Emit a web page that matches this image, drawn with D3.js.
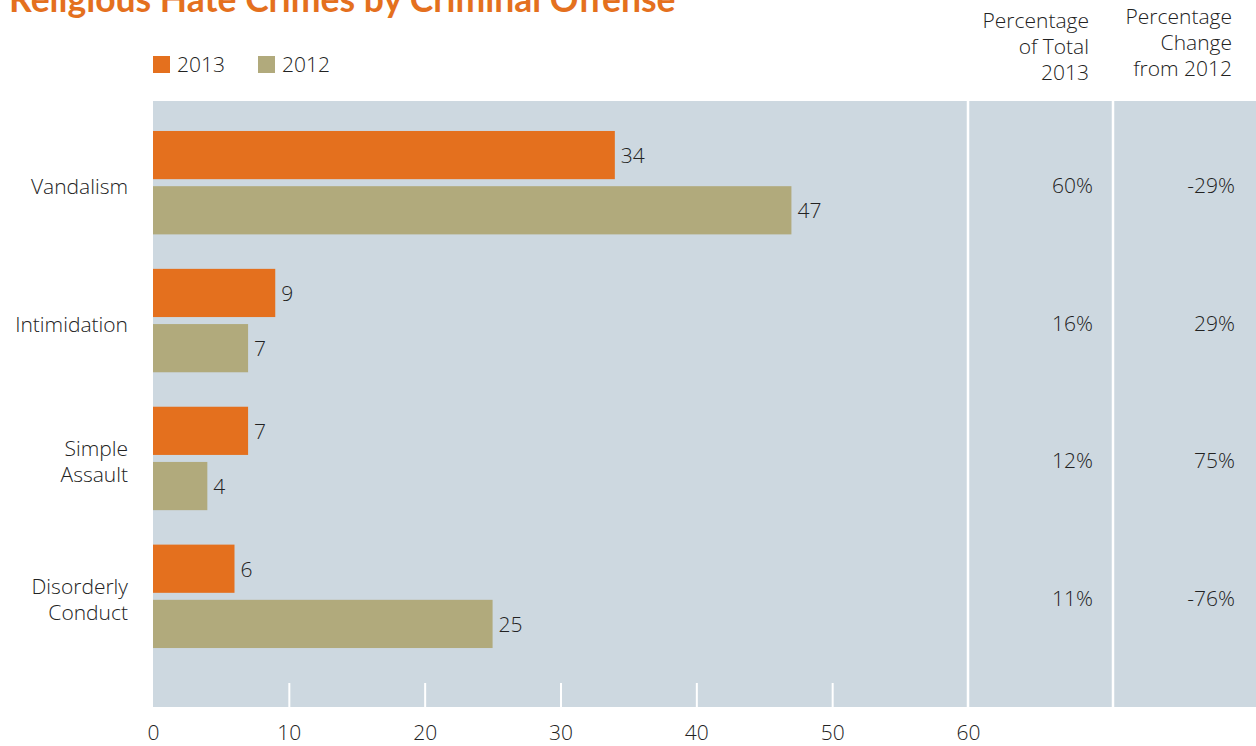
<!DOCTYPE html>
<html>
<head>
<meta charset="utf-8">
<script src="https://cdn.jsdelivr.net/npm/d3@7"></script>
<style>
  html, body { margin: 0; padding: 0; background: #fff; }
  svg { display: block; font-family: "Open Sans", Lato, sans-serif; font-weight: 300; }
</style>
</head>
<body>
<svg id="chart" width="1256" height="746"></svg>
<script>
// Religious hate crimes by criminal offense, 2013 vs 2012
const categories = [["Vandalism"], ["Intimidation"], ["Simple", "Assault"], ["Disorderly", "Conduct"]];
const years = ["2013", "2012"];
const values2013 = [34, 9, 7, 6];
const values2012 = [47, 7, 4, 25];
const pctOfTotal = ["60%", "16%", "12%", "11%"];
const pctChange = ["-29%", "29%", "75%", "-76%"];
const xTicks = [0, 10, 20, 30, 40, 50, 60];

const colors = { "2013": "#e4701e", "2012": "#b1aa7c" };
const bg = "#cdd8e0";
const textColor = "#222";
const fs = 21;

const plot = { left: 153, top: 101, right: 1256, bottom: 707 };
const col1Right = 1113;

const svg = d3.select("#chart");

const x = d3.scaleLinear().domain([0, 60]).range([plot.left, 968]);
const keys = categories.map(c => c.join(" "));
const y = d3.scaleBand().domain(keys).range([96.5, 682.5]).padding(0.25);
const ySub = d3.scaleBand().domain(years).range([0, y.bandwidth()]).paddingInner(0.127);

// Title (partly clipped at the top edge)
svg.append("text")
  .attr("x", 9).attr("y", 12)
  .attr("fill", "#e4701e")
  .attr("font-family", "Lato, sans-serif")
  .attr("font-weight", 700)
  .attr("font-size", 35.5)
  .text("Religious Hate Crimes by Criminal Offense");

// Legend
years.forEach((yr, i) => {
  const g = svg.append("g").attr("transform", `translate(${i === 0 ? 153 : 258},56)`);
  g.append("rect").attr("width", 17).attr("height", 17).attr("fill", colors[yr]);
  g.append("text").attr("x", 24).attr("y", 16).attr("font-size", fs)
    .attr("fill", textColor).text(yr);
});

// Column headers
const headers = [
  { right: 1089, top: 28, lines: ["Percentage", "of Total", "2013"] },
  { right: 1232, top: 24, lines: ["Percentage", "Change", "from 2012"] }
];
headers.forEach(h => {
  const t = svg.append("text").attr("text-anchor", "end").attr("font-size", fs).attr("fill", textColor);
  h.lines.forEach((ln, i) => {
    t.append("tspan").attr("x", h.right).attr("y", h.top + i * 26).text(ln);
  });
});

// Plot background
svg.append("rect")
  .attr("x", plot.left).attr("y", plot.top)
  .attr("width", plot.right - plot.left).attr("height", plot.bottom - plot.top)
  .attr("fill", bg);

// Column separators
[x(60), col1Right].forEach(sx => {
  svg.append("line")
    .attr("x1", sx).attr("x2", sx)
    .attr("y1", plot.top).attr("y2", plot.bottom)
    .attr("stroke", "#fff").attr("stroke-width", 2.5);
});

// X axis: short white ticks inside the bottom of the panel, labels below
const xAxis = d3.axisBottom(x).tickValues(xTicks).tickSize(0).tickPadding(0);
const ax = svg.append("g").attr("transform", `translate(0,${plot.bottom})`).call(xAxis);
ax.select(".domain").remove();
ax.selectAll(".tick text")
  .attr("y", 33).attr("dy", 0)
  .attr("font-family", "'Open Sans', sans-serif")
  .attr("font-weight", 300)
  .attr("font-size", fs).attr("fill", textColor);
ax.selectAll(".tick")
  .filter(d => d > 0 && d < 60)
  .append("line")
  .attr("y1", -24).attr("y2", 0)
  .attr("stroke", "#fff").attr("stroke-width", 2);

// Bars
const rows = keys.map((k, i) => ({ key: k, lines: categories[i], v2013: values2013[i], v2012: values2012[i], pt: pctOfTotal[i], pc: pctChange[i] }));
const groups = svg.append("g").selectAll("g").data(rows).join("g")
  .attr("transform", d => `translate(0,${y(d.key)})`);

groups.selectAll("rect").data(d => years.map(yr => ({ yr, v: d["v" + yr] }))).join("rect")
  .attr("x", x(0))
  .attr("y", d => ySub(d.yr))
  .attr("width", d => x(d.v) - x(0))
  .attr("height", ySub.bandwidth())
  .attr("fill", d => colors[d.yr]);

groups.selectAll("text.val").data(d => years.map(yr => ({ yr, v: d["v" + yr] }))).join("text")
  .attr("class", "val")
  .attr("x", d => x(d.v) + 6)
  .attr("y", d => ySub(d.yr) + ySub.bandwidth() / 2 + 8)
  .attr("font-size", fs).attr("fill", textColor)
  .text(d => d.v);

// Category labels and the two percentage columns
groups.each(function (d) {
  const g = d3.select(this);
  const cy = y.bandwidth() / 2 + 3;
  const n = d.lines.length;
  const t = g.append("text").attr("text-anchor", "end").attr("font-size", fs).attr("fill", textColor);
  d.lines.forEach((ln, i) => {
    t.append("tspan").attr("x", 128)
      .attr("y", cy + (i - (n - 1) / 2) * 26 + 8)
      .text(ln);
  });
  g.append("text").attr("text-anchor", "end").attr("x", 1093).attr("y", cy + 7)
    .attr("font-size", fs).attr("fill", textColor).text(d.pt);
  g.append("text").attr("text-anchor", "end").attr("x", 1235).attr("y", cy + 7)
    .attr("font-size", fs).attr("fill", textColor).text(d.pc);
});
</script>
</body>
</html>
